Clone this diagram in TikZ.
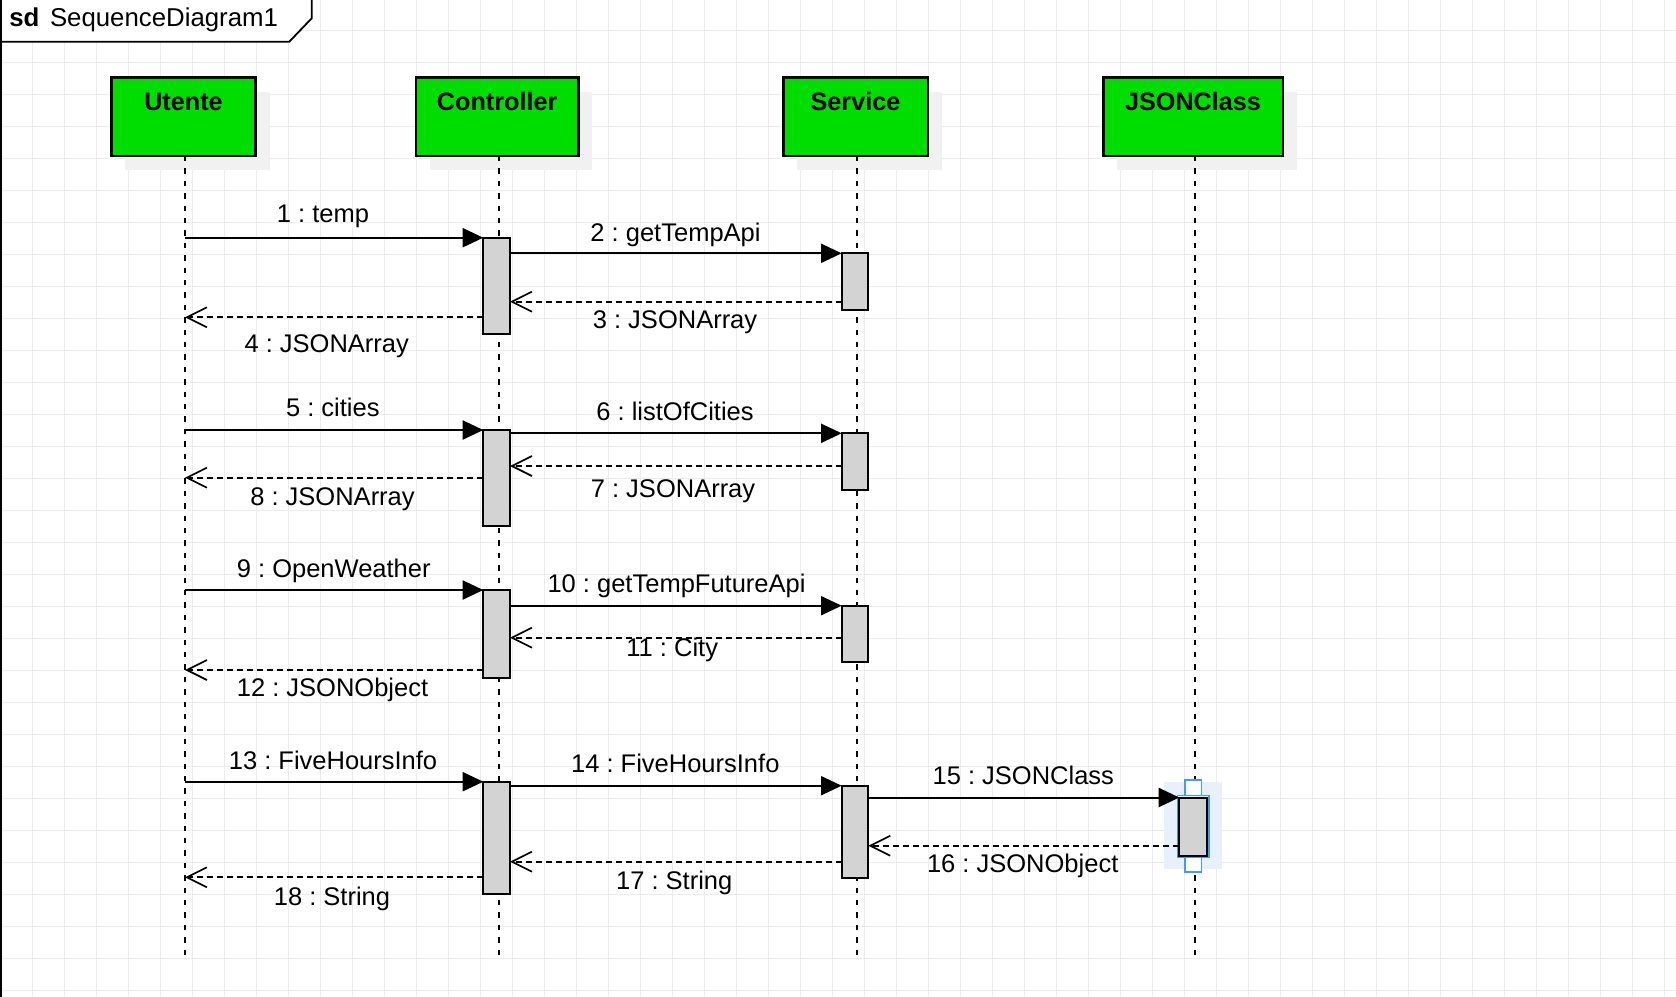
\documentclass[tikz,border=0pt]{standalone}
\usepackage{fontspec}
\setmainfont{Liberation Sans}
\usetikzlibrary{arrows.meta,shadows}
\definecolor{pgreen}{RGB}{0,221,0}
\definecolor{actfill}{RGB}{211,211,211}
\definecolor{shadowc}{RGB}{241,241,241}
\definecolor{gridc}{RGB}{236,236,236}
\definecolor{selc}{RGB}{232,240,254}
\definecolor{selblue}{RGB}{66,153,255}
\frenchspacing
\begin{document}
\begin{tikzpicture}[x=0.5pt,y=-0.5pt,
  every node/.style={inner sep=0pt, outer sep=0pt},
  gridline/.style={draw=gridc, line width=0.5pt},
  frameline/.style={draw=black, line width=0.9pt},
  actor/.style={draw=black, line width=1.2pt, fill=pgreen,
    general shadow={shadow xshift=7pt, shadow yshift=-7pt, fill=shadowc}},
  actorlabel/.style={font=\fontsize{12.6pt}{15pt}\selectfont\bfseries, anchor=base},
  lifeline/.style={draw=black, line width=1.05pt, dash pattern=on 2.7pt off 3.5pt},
  activation/.style={draw=black, line width=1pt, fill=actfill, minimum width=13.35pt},
  sync/.style={draw=black, line width=1pt, -{Triangle[length=10.3pt,width=9.5pt]}},
  reply/.style={draw=black, line width=0.85pt, dash pattern=on 3pt off 2pt,
    -{Straight Barb[length=10pt,width=10pt]}},
  msg/.style={font=\fontsize{12.75pt}{15pt}\selectfont, anchor=base},
  sdtext/.style={font=\fontsize{12.9pt}{15pt}\selectfont, anchor=base west},
]
\useasboundingbox (0,0) rectangle (1676,996);
% grid
\foreach \i in {0,...,52} \draw[gridline] ({0.7+32*\i},0) -- ({0.7+32*\i},996);
\foreach \k in {0,...,30} \draw[gridline] (0,{30.5+32*\k}) -- (1676,{30.5+32*\k});
% frame
\draw[frameline, fill=white] (-5,-5) -- (311.7,-5) -- (311.7,18.3) -- (289.3,41.7) -- (-5,41.7) -- cycle;
\draw[frameline] (0.8,-5) -- (0.8,1000);
\node[sdtext, font=\fontsize{12.9pt}{15pt}\selectfont\bfseries] (sd) at (9.3,26.7) {sd};
\node[sdtext] (sdname) at (50,26.7) {SequenceDiagram1};
% participants
\node[actor, minimum width=72.1pt, minimum height=39.25pt] (u) at (183.5,116.75) {};
\node[actor, minimum width=81.15pt, minimum height=39.25pt] (c) at (497.15,116.75) {};
\node[actor, minimum width=72.2pt, minimum height=39.25pt] (s) at (855.5,116.75) {};
\node[actor, minimum width=89.7pt, minimum height=39.25pt] (j) at (1193,116.75) {};
\node[actorlabel] (ut) at (183.5,110.7) {Utente};
\node[actorlabel] (ct) at (497.15,110.7) {Controller};
\node[actorlabel] (st) at (855.5,110.7) {Service};
\node[actorlabel] (jt) at (1193,110.7) {JSONClass};
% selection highlight
\fill[selc] (1164.3,782.3) rectangle (1221.7,869.3);
% lifelines
\coordinate (uEnd) at (185,955);
\coordinate (cEnd) at (499,955);
\coordinate (sEnd) at (857,955);
\coordinate (jEnd) at (1195,955);
\draw[lifeline] (u.south -| uEnd) -- (uEnd);
\draw[lifeline] (c.south -| cEnd) -- (cEnd);
\draw[lifeline] (s.south -| sEnd) -- (sEnd);
\draw[lifeline] (j.south -| jEnd) -- (jEnd);
% activations
\node[activation, minimum height=48.15pt] (c1) at (496.65,285.85) {};
\node[activation, minimum height=47.85pt] (c2) at (496.65,477.85) {};
\node[activation, minimum height=43.85pt] (c3) at (496.65,633.85) {};
\node[activation, minimum height=56.15pt] (c4) at (496.65,837.85) {};
\node[activation, minimum height=28.35pt] (s1) at (855,281.65) {};
\node[activation, minimum height=28.35pt] (s2) at (855,461.65) {};
\node[activation, minimum height=28pt] (s3) at (855,633.7) {};
\node[activation, minimum height=46pt] (s4) at (855,831.7) {};
\draw[selblue, line width=0.8pt] (1177.3,795.3) rectangle (1208.7,857.3);
\node[activation, minimum width=13.7pt, minimum height=29pt] (j1) at (1193,826.5) {};
\draw[selblue, line width=0.8pt, fill=white] (1184.7,779.7) rectangle (1201.3,795.3);
\draw[selblue, line width=0.8pt, fill=white] (1184.7,857.3) rectangle (1201.3,872);
% messages
\draw[sync] (uEnd |- c1.north) -- (c1.north west);
\draw[sync] (c1.east |- s1.north) -- (s1.north west);
\draw[reply] (s1.west |- 0,301.7) -- (c1.east |- 0,301.7);
\draw[reply] (c1.west |- 0,317.3) -- (uEnd |- 0,317.3);
\draw[sync] (uEnd |- c2.north) -- (c2.north west);
\draw[sync] (c2.east |- s2.north) -- (s2.north west);
\draw[reply] (s2.west |- 0,466) -- (c2.east |- 0,466);
\draw[reply] (c2.west |- 0,477.7) -- (uEnd |- 0,477.7);
\draw[sync] (uEnd |- c3.north) -- (c3.north west);
\draw[sync] (c3.east |- s3.north) -- (s3.north west);
\draw[reply] (s3.west |- 0,637.7) -- (c3.east |- 0,637.7);
\draw[reply] (c3.west |- 0,670) -- (uEnd |- 0,670);
\draw[sync] (uEnd |- c4.north) -- (c4.north west);
\draw[sync] (c4.east |- s4.north) -- (s4.north west);
\draw[sync] (s4.east |- j1.north) -- (j1.north west);
\draw[reply] (j1.west |- 0,845.7) -- (s4.east |- 0,845.7);
\draw[reply] (s4.west |- 0,861.7) -- (c4.east |- 0,861.7);
\draw[reply] (c4.west |- 0,877.3) -- (uEnd |- 0,877.3);
% message labels
\node[msg] (l1) at (323,222.7) {1 : temp};
\node[msg] (l2) at (675.5,241) {2 : getTempApi};
\node[msg] (l3) at (675,328.3) {3 : JSONArray};
\node[msg] (l4) at (326.7,352.7) {4 : JSONArray};
\node[msg] (l5) at (332.8,416.7) {5 : cities};
\node[msg] (l6) at (675,420.7) {6 : listOfCities};
\node[msg] (l7) at (673,497.3) {7 : JSONArray};
\node[msg] (l8) at (332.5,505) {8 : JSONArray};
\node[msg] (l9) at (333.7,577.3) {9 : OpenWeather};
\node[msg] (l10) at (676.5,592.3) {10 : getTempFutureApi};
\node[msg] (l11) at (672.2,656.7) {11 : City};
\node[msg] (l12) at (332.5,696.7) {12 : JSONObject};
\node[msg] (l13) at (333,769) {13 : FiveHoursInfo};
\node[msg] (l14) at (675.3,772.3) {14 : FiveHoursInfo};
\node[msg] (l15) at (1023.3,784.3) {15 : JSONClass};
\node[msg] (l16) at (1022.7,872.7) {16 : JSONObject};
\node[msg] (l17) at (674.2,889.3) {17 : String};
\node[msg] (l18) at (332,905) {18 : String};
\end{tikzpicture}
\end{document}
